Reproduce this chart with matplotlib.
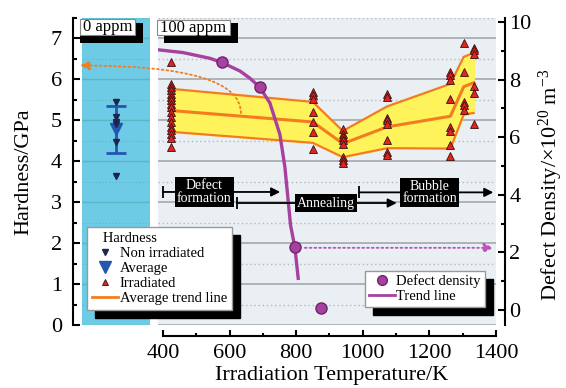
import numpy as np
import matplotlib.pyplot as plt
from matplotlib.patches import Rectangle
from matplotlib.lines import Line2D
from matplotlib.transforms import Affine2D

plt.rcParams['font.family'] = 'Liberation Serif'
plt.rcParams['mathtext.fontset'] = 'custom'
plt.rcParams['mathtext.rm'] = 'Liberation Serif'
plt.rcParams['mathtext.it'] = 'Liberation Serif:italic'

# ---- 0 appm (non irradiated) hardness, GPa
hard_nonirr = [5.45, 5.07, 4.97, 4.90, 4.47, 3.63]
hard_avg = 4.78
hard_err = 0.58

# ---- 100 appm irradiated hardness, GPa
irr_temp = [423, 850, 940, 1073, 1263, 1303, 1333]
irr_hard = [
    [6.42, 5.89, 5.81, 5.73, 5.65, 5.57, 5.49, 5.41, 5.32, 5.20, 5.08, 4.96,
     4.84, 4.76, 4.67, 4.58, 4.35],
    [5.69, 5.61, 5.53, 5.20, 4.96, 4.72, 4.31],
    [4.80, 4.67, 4.59, 4.51, 4.43, 4.10, 4.02, 3.96],
    [5.65, 5.57, 5.06, 5.00, 4.92, 4.51, 4.23, 4.15],
    [6.18, 6.10, 5.99, 5.53, 4.84, 4.74, 4.39, 4.12],
    [6.89, 6.18, 5.45, 5.37, 5.26],
    [6.77, 6.71, 6.63, 5.83, 5.67, 4.90],
]
trend_upper = [5.77, 5.45, 4.74, 5.34, 5.89, 6.55, 6.65]
trend_avg = [5.24, 4.96, 4.43, 4.84, 5.10, 5.82, 5.92]
trend_lower = [4.72, 4.45, 4.10, 4.32, 4.31, 5.14, 5.18]

# ---- defect density, 1e20 m^-3
dd_temp = [576, 691, 796, 874]
dd_val = [8.60, 7.73, 2.18, 0.08]
dd_trend_temp = [390, 460, 541, 576, 631, 661, 691, 721, 751, 766, 775, 783, 796, 806]
dd_trend_val = [9.03, 8.94, 8.74, 8.60, 8.30, 8.05, 7.73, 7.19, 6.10, 4.97, 3.90, 2.95, 2.18, 1.10]

# ---- process stages
stage_names = ['Defect\nformation', 'Annealing', 'Bubble\nformation']
stage_start = [400, 622, 988]
stage_end = [752, 1102, 1392]
stage_level = [3.25, 2.98, 3.24]
stage_label_temp = [524, 890, 1201]

orange = '#f47c20'
purple = '#a7409f'
blue = '#2456b0'

fig = plt.figure(figsize=(5.66, 3.88), dpi=100)
W, H = 566.0, 388.0


def rect(l, t, r, b):
    return [l / W, 1 - b / H, (r - l) / W, (b - t) / H]


pix = Affine2D().scale(1 / W, -1 / H).translate(0, 1) + fig.transFigure

ax0 = fig.add_axes(rect(82, 18, 150, 325))
ax1 = fig.add_axes(rect(158, 18, 496, 325))
ax2 = ax1.twinx()

# left blue panel
ax0.set_facecolor('#6dcbe5')
ax0.set_xlim(0, 1)
ax0.set_ylim(0, 7.5)
for s in ['top', 'right', 'bottom']:
    ax0.spines[s].set_visible(False)
ax0.spines['left'].set_position(('outward', 6.5))
ax0.spines['left'].set_linewidth(1.5)
ax0.set_xticks([])
ax0.set_yticks(np.arange(0, 8))
ax0.set_yticks(np.arange(0.5, 8, 1), minor=True)
ax0.tick_params(axis='y', which='major', direction='in', length=5, width=1.5,
                labelsize=16, pad=8)
ax0.tick_params(axis='y', which='minor', direction='in', length=3, width=1.5)
ax0.grid(axis='y', which='major', color='#5cb6c4', lw=1)
ax0.grid(axis='y', which='minor', color='#5cb6c4', lw=0.8, ls=(0, (1, 2)))
ax0.set_ylabel('Hardness/GPa', fontsize=16)
ax0.yaxis.set_label_coords(-0.72, 0.5)

ax0.errorbar([0.5], [hard_avg], yerr=[hard_err], fmt='v', color=blue, ms=9,
             capsize=7, elinewidth=2, capthick=2, zorder=3)
ax0.plot([0.5] * len(hard_nonirr), hard_nonirr, 'v', color='#1c2550', ms=5, ls='', zorder=4)
ax0.annotate('', xy=(-0.03, 4.82), xytext=(0.37, 4.82),
             arrowprops=dict(arrowstyle='-|>', color=blue, lw=1.3, ls='--',
                             mutation_scale=12, shrinkA=0, shrinkB=0))

# main panel
ax1.set_facecolor('#e9eff3')
ax1.set_xlim(385, 1400)
ax1.set_ylim(0, 7.5)
for s in ['top', 'left', 'right']:
    ax1.spines[s].set_visible(False)
ax1.spines['bottom'].set_position(('outward', 8))
ax1.spines['bottom'].set_bounds(400, 1400)
ax1.spines['bottom'].set_linewidth(1.5)
ax1.set_xticks(range(400, 1401, 200))
ax1.set_xticks(range(500, 1400, 200), minor=True)
ax1.tick_params(axis='x', which='major', direction='in', length=4, width=1.5,
                labelsize=16, pad=6)
ax1.tick_params(axis='x', which='minor', direction='in', length=2.5, width=1.5)
ax1.set_yticks(np.arange(0, 8))
ax1.set_yticks(np.arange(0.5, 8, 1), minor=True)
ax1.tick_params(axis='y', which='both', length=0, labelleft=False)
ax1.grid(axis='y', which='major', color='#a5a9ad', lw=1.2)
ax1.grid(axis='y', which='minor', color='#b5b9bd', lw=1, ls=(0, (1, 2)))
ax1.set_axisbelow(True)
ax1.set_xlabel('Irradiation Temperature/K', fontsize=16)
ax1.xaxis.set_label_coords(0.515, -0.132)

ax1.fill_between(irr_temp, trend_lower, trend_upper, color='#fff35c', zorder=1)
ax1.plot(irr_temp, trend_upper, color=orange, lw=1.6, zorder=2)
ax1.plot(irr_temp, trend_lower, color=orange, lw=1.6, zorder=2)
ax1.plot(irr_temp, trend_avg, color=orange, lw=2.2, zorder=2)
for t, hs in zip(irr_temp, irr_hard):
    ax1.plot([t] * len(hs), hs, '^', mfc='#e3231f', mec='#3a1010', mew=0.6,
             ms=6, ls='', zorder=3)

ax1.annotate('', xy=(-0.03, 6.34), xycoords=ax0.transData,
             xytext=(634, 5.18), textcoords=ax1.transData,
             arrowprops=dict(arrowstyle='-|>', color=orange, lw=1.3, ls=':',
                             connectionstyle='angle3,angleA=90,angleB=0',
                             mutation_scale=14, shrinkA=0, shrinkB=0))

# defect density axis
ax2.set_ylim(-0.52, 10.14)
for s in ['top', 'left', 'bottom']:
    ax2.spines[s].set_visible(False)
ax2.spines['right'].set_position(('outward', 6.5))
ax2.spines['right'].set_linewidth(1.5)
ax2.set_yticks(range(0, 11, 2))
ax2.set_yticks(range(1, 10, 2), minor=True)
ax2.tick_params(axis='y', which='major', direction='in', length=5, width=1.5,
                labelsize=16, pad=3)
ax2.tick_params(axis='y', which='minor', direction='in', length=3, width=1.5)
ax2.set_ylabel('Defect Density/$\\times$10$^{20}$ m$^{-3}$', fontsize=16)
ax2.yaxis.set_label_coords(1.12, 0.455)

ax2.plot(dd_trend_temp, dd_trend_val, color=purple, lw=2.4, zorder=2)
ax2.plot(dd_temp, dd_val, 'o', mfc=purple, mec='#6d2469', ms=8, ls='', zorder=3)
ax2.annotate('', xy=(1392, 2.16), xytext=(826, 2.16),
             arrowprops=dict(arrowstyle='-|>', color='#c050c0', lw=1.3, ls=':',
                             mutation_scale=14, shrinkA=0, shrinkB=0))

# process stages
for name, t0, t1, lvl, tl in zip(stage_names, stage_start, stage_end, stage_level, stage_label_temp):
    ax2.annotate('', xy=(t1, lvl), xytext=(t0, lvl),
                 xycoords=ax1.transData, textcoords=ax1.transData,
                 arrowprops=dict(arrowstyle='-|>', color='k', lw=1.3,
                                 mutation_scale=13, shrinkA=0, shrinkB=0), zorder=4)
    ax2.plot([t0], [lvl], marker='|', ms=8, mew=1.3, color='k', transform=ax1.transData, zorder=4)
    ax2.text(tl, lvl, name, transform=ax1.transData, ha='center', va='center',
             color='white', fontsize=10, linespacing=0.95, zorder=5,
             bbox=dict(boxstyle='square,pad=0.15', fc='black', ec='none'))

# panel tags with shadows
for text, box, shadow in [('0 appm', (80, 19, 135, 35), (80, 23, 143, 43)),
                          ('100 appm', (157, 20, 230, 35), (164, 23, 238, 43))]:
    l, t, r, b = shadow
    fig.add_artist(Rectangle((l, t), r - l, b - t, transform=pix, fc='black', ec='none', zorder=3))
    l, t, r, b = box
    fig.add_artist(Rectangle((l, t), r - l, b - t, transform=pix, fc='white', ec='#888888',
                             lw=0.8, zorder=4))
    fig.text((l + r) / 2, (t + b) / 2, text, transform=pix, ha='center', va='center',
             fontsize=12, zorder=5)

# legends
shadow = {'ox': 6, 'oy': -6, 'facecolor': 'black', 'edgecolor': 'black', 'alpha': 1}
h1 = [Line2D([], [], marker='v', ls='', color='#1c2550', ms=5),
      Line2D([], [], marker='v', ls='', color=blue, ms=8),
      Line2D([], [], marker='^', ls='', mfc='#e3231f', mec='#3a1010', mew=0.6, ms=5),
      Line2D([], [], color=orange, lw=2)]
fig.legend(h1, ['Non irradiated', 'Average', 'Irradiated', 'Average trend line'],
           title='   Hardness', alignment='left', loc='upper left',
           bbox_to_anchor=(87 / W, 1 - 227 / H), fontsize=10.5, title_fontsize=10.5,
           fancybox=False, framealpha=1, edgecolor='#999999', shadow=shadow,
           borderaxespad=0, handletextpad=0.1, labelspacing=0.12, handlelength=1.8,
           borderpad=0.35)
h2 = [Line2D([], [], marker='o', ls='', mfc=purple, mec='#6d2469', ms=7),
      Line2D([], [], color=purple, lw=2)]
fig.legend(h2, ['Defect density', 'Trend line'], loc='upper left',
           bbox_to_anchor=(365 / W, 1 - 271 / H), fontsize=10.5,
           fancybox=False, framealpha=1, edgecolor='#999999', shadow=shadow,
           borderaxespad=0, handletextpad=0.1, labelspacing=0.1, handlelength=1.8,
           borderpad=0.25)

plt.savefig('out.png', dpi=100)
